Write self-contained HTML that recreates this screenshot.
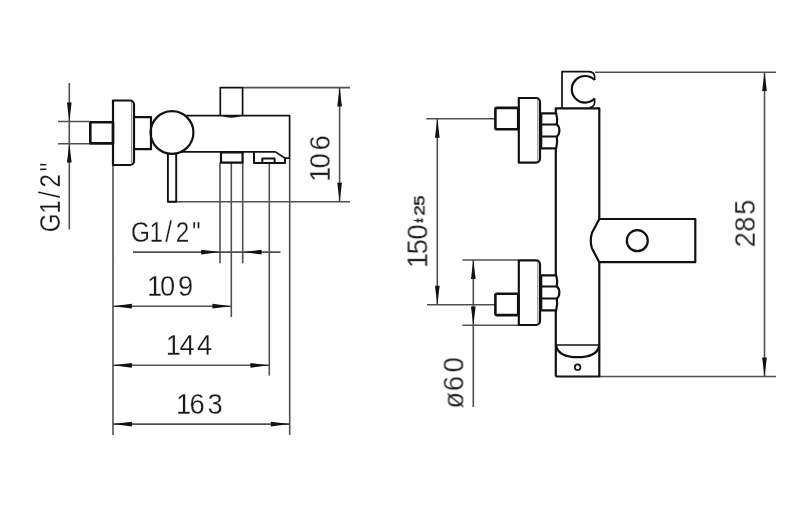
<!DOCTYPE html>
<html>
<head>
<meta charset="utf-8">
<title>Technical drawing</title>
<style>
html,body{margin:0;padding:0;background:#fff;}
body{width:800px;height:519px;overflow:hidden;}
svg{display:block;}
.k{fill:none;stroke:#111;stroke-width:2.2;stroke-linejoin:round;stroke-linecap:butt;}
.m{fill:none;stroke:#111;stroke-width:1.7;stroke-linejoin:round;}
.t{fill:none;stroke:#505050;stroke-width:1.6;}
.g{fill:none;stroke:#888;stroke-width:1;}
.a{fill:#111;stroke:none;}
text{font-family:"Liberation Sans",sans-serif;fill:#1a1a1a;stroke:#fff;}
</style>
</head>
<body>
<svg width="800" height="519" viewBox="0 0 800 519">
<rect width="800" height="519" fill="#fff"/>

<!-- ===== LEFT VIEW ===== -->
<!-- left G1/2 dimension -->
<path class="t" d="M69.3 83V229.5 M58 121.5H89 M58 143.7H89"/>
<path class="a" d="M69.3 121.5l-2.35 -18.9h4.7z M69.3 143.7l-2.35 18.9h4.7z"/>

<!-- extension lines -->
<path class="t" d="M113 165V435 M220 162.6V263.2 M242.7 162.6V263.2 M231.3 162.6V317 M269.3 163V375.6 M289.7 158V435"/>
<path class="t" d="M168 201.7H350 M242.7 87.6H350 M339.6 87.6V201.7"/>
<path class="a" d="M339.6 87.6l-2.35 18.9h4.7z M339.6 201.7l-2.35 -18.9h4.7z"/>

<!-- horizontal dims -->
<path class="t" d="M133 252.1H280.5 M113 306.2H231.3 M113 365.3H269.3 M113 424.1H289.7"/>
<path class="a" d="M220 252.1l-18.9 -2.35v4.7z M242.7 252.1l18.9 -2.35v4.7z"/>
<path class="a" d="M113 306.2l18.9 -2.35v4.7z M231.3 306.2l-18.9 -2.35v4.7z"/>
<path class="a" d="M113 365.3l18.9 -2.35v4.7z M269.3 365.3l-18.9 -2.35v4.7z"/>
<path class="a" d="M113 424.1l18.9 -2.35v4.7z M289.7 424.1l-18.9 -2.35v4.7z"/>

<!-- faucet body -->
<rect class="k" style="stroke-width:2.6" x="90.3" y="122.2" width="22.7" height="21.2"/>
<path class="k" d="M113 100.5H130a4 4 0 0 1 4 4V161a4 4 0 0 1 -4 4H113z"/>
<path class="g" d="M131.6 102V163.5"/>
<path class="k" d="M134 117.2H151V149.2H134"/>
<circle class="k" cx="172" cy="132.5" r="21.4"/>
<path class="m" d="M186 115.7H289.6V158.2H285 M180.4 151.9H275.5L285 158.2"/>
<path class="k" style="stroke-width:2" d="M285 158.2V163H254V152.2 M262.3 163V158.6H274.6V163"/>
<path class="m" d="M220.3 115.7V87.6H242.6V115.7"/>
<path class="a" d="M222 116Q231.500 119.600 241 116z"/>
<path class="m" style="stroke-width:1.9" d="M167.9 153V201.7H176.2V153.2"/>
<rect class="k" x="221" y="152.3" width="21.6" height="10.3"/>

<!-- ===== RIGHT VIEW ===== -->
<path class="t" d="M437.3 118.8V304.7 M426.3 118.8H495 M427 304.7H495"/>
<path class="a" d="M437.3 118.8l-2.35 18.9h4.7z M437.3 304.7l-2.35 -18.9h4.7z"/>

<path class="t" d="M473.3 260V407 M462.4 260H518 M462.4 325.3H518"/>
<path class="a" d="M473.3 260l-2.35 18.9h4.7z M473.3 325.3l-2.35 -18.9h4.7z"/>

<path class="t" d="M595 72.2H776 M600 376.5H776 M764.5 72.2V376.5"/>
<path class="a" d="M764.5 72l-2.35 18.9h4.7z M764.5 376.5l-2.35 -18.9h4.7z"/>

<!-- top connection -->
<rect class="k" style="stroke-width:2.6" x="495.4" y="107.9" width="22.8" height="21.3" rx="1.5"/>
<path class="k" d="M518.8 98H536a4 4 0 0 1 4 4V158.6a4 4 0 0 1 -4 4H518.8z"/>
<path class="g" d="M537.8 100V161"/>
<!-- bottom connection -->
<rect class="k" style="stroke-width:2.6" x="495.4" y="293.8" width="22.8" height="21.3" rx="1.5"/>
<path class="k" d="M518.8 260.3H536a4 4 0 0 1 4 4V321a4 4 0 0 1 -4 4H518.8z"/>
<path class="g" d="M537.8 262V323.500"/>

<!-- holder -->
<path class="m" d="M562 108V71.600H589q5.500 0.500 5.600 5V80 M594.600 98.600V103q-0.500 4 -5 4.500"/>
<path class="k" d="M594.600 80A13.3 13.3 0 1 0 594.600 98.600"/>
<!-- body -->
<path class="k" d="M555.800 376.500V108.300H599.3V219 M599.3 262.2V376.500H555.800"/>
<path class="m" d="M555.800 345H599.3"/>
<path class="k" style="stroke-width:2.3" d="M556.2 346C558 354 566 357.2 577.7 357.2S597.4 354 599.2 346"/>
<circle class="m" cx="577.600" cy="367.200" r="2.800"/>
<!-- nuts -->
<path class="k" style="fill:#fff" d="M541.2 113.3H556.2q1.6 5.5 0.6 11.200c3.4 2.5 3.4 9.5 0 12q1 6 -0.600 11.800H541.2z M541.2 124.5H556.8 M541.2 136.5H556.8"/>
<path class="k" style="fill:#fff" d="M541.2 275.300H556.2q1.600 5.500 0.600 11.200c3.4 2.5 3.4 9.5 0 12q1 6 -0.600 11.800H541.2z M541.2 286.500H556.8 M541.2 298.500H556.8"/>
<!-- handle -->
<path class="k" d="M599.3 219H695.300V262.2H599.3L592 248.5q-2.500 -7.700 0 -15.700z"/>
<circle class="k" cx="637.3" cy="240.7" r="10.5"/>

<!-- ===== TEXT ===== -->
<g opacity="0.999">
<text transform="translate(59.60,230.20) rotate(-90) scale(0.820,1)" x="-2.49 20.11 39.21 52.12 71.92" y="0" font-size="29.7" stroke-width="0.25">G1/2&quot;</text>
<text transform="translate(329.90,178.30) rotate(-90) scale(0.920,1)" x="-3.99 10.83 30.22" y="0" font-size="29.7" stroke-width="0.25">106</text>
<text transform="translate(133.00,242.10) scale(0.820,1)" x="-2.49 20.11 39.21 52.12 71.92" y="0" font-size="29.7" stroke-width="0.25">G1/2&quot;</text>
<text transform="translate(150.50,296.20) scale(0.920,1)" x="-3.88 10.45 29.80" y="0" font-size="29.7" stroke-width="0.25">109</text>
<text transform="translate(169.20,355.10) scale(0.920,1)" x="-3.72 11.18 30.20" y="0" font-size="29.7" stroke-width="0.25">144</text>
<text transform="translate(179.80,414.00) scale(0.920,1)" x="-4.05 10.65 30.09" y="0" font-size="29.7" stroke-width="0.25">163</text>
<text transform="translate(427.40,264.50) rotate(-90) scale(0.920,1)" x="-3.99 11.16 27.14" y="0" font-size="29.7" stroke-width="0.25">150<tspan x="45.9" y="-4.8" font-size="12" textLength="3.9" lengthAdjust="spacingAndGlyphs" style="stroke:#1a1a1a;stroke-width:1.1px">±</tspan><tspan x="53.15 63.8" y="-3.4" font-size="15.3" textLength="22.6" lengthAdjust="spacingAndGlyphs" style="stroke:#1a1a1a;stroke-width:0.4px">25</tspan></text>
<text transform="translate(463.50,406.40) rotate(-90) scale(0.920,1)" x="-2.59 16.52 37.03" y="0" font-size="29.7" stroke-width="0.25">ø60</text>
<text transform="translate(754.90,245.80) rotate(-90) scale(0.920,1)" x="-1.77 15.22 33.66" y="0" font-size="29.7" stroke-width="0.25">285</text>
</g>
</svg>
</body>
</html>
